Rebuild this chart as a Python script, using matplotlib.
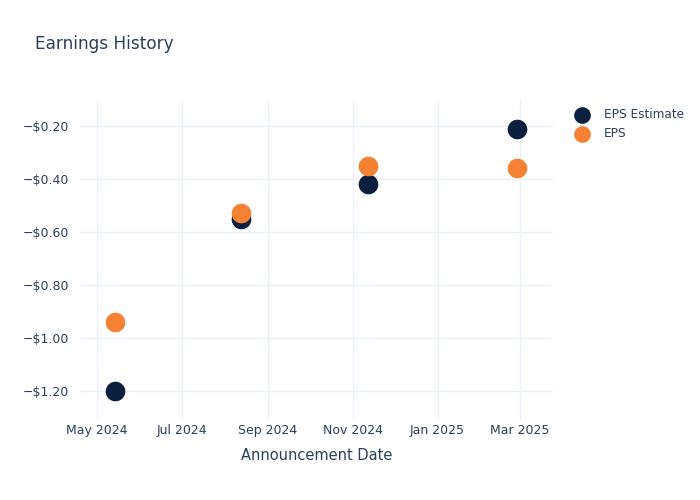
import matplotlib
matplotlib.use('Agg')
import matplotlib.pyplot as plt
import matplotlib.dates as mdates
import matplotlib.ticker as mticker
import numpy as np
import datetime as dt

# data
dates = ['2024-05-14', '2024-08-13', '2024-11-12', '2025-02-27']
eps_estimate = [-1.20, -0.55, -0.42, -0.21]
eps_actual = [-0.94, -0.53, -0.35, -0.36]
tick_dates = ['2024-05-01', '2024-07-01', '2024-09-01', '2024-11-01', '2025-01-01', '2025-03-01']
y_ticks = [-1.2, -1.0, -0.8, -0.6, -0.4, -0.2]

text_color = '#2a3f5f'
grid_color = '#ebf0f8'
navy = '#0c1f3f'
orange = '#f58232'

x = [dt.datetime.strptime(d, '%Y-%m-%d') for d in dates]
xt = [dt.datetime.strptime(d, '%Y-%m-%d') for d in tick_dates]

fig = plt.figure(figsize=(7, 5), dpi=100)
ax = fig.add_axes([80 / 700, 80 / 500, (553 - 80) / 700, (420 - 100) / 500])

marker_size = 200
ax.scatter(x, eps_estimate, s=marker_size, color=navy, zorder=3, label='EPS Estimate', linewidths=0)
ax.scatter(x, eps_actual, s=marker_size, color=orange, zorder=4, label='EPS', linewidths=0)

ax.set_xlim(dt.datetime(2024, 4, 19), dt.datetime(2025, 3, 25))
ax.set_ylim(-1.309, -0.102)

ax.set_xticks(xt)
ax.xaxis.set_major_formatter(mdates.DateFormatter('%b %Y'))
ax.set_yticks(y_ticks)
ax.yaxis.set_major_formatter(mticker.FuncFormatter(
    lambda v, p: ('\u2212' if v < 0 else '') + '${:.2f}'.format(abs(v))))

ax.grid(True, color=grid_color, linewidth=1)
ax.set_axisbelow(True)
for s in ax.spines.values():
    s.set_visible(False)
ax.tick_params(length=0, labelsize=9, labelcolor=text_color, pad=8)
ax.tick_params(axis='x', pad=3)

ax.set_xlabel('Announcement Date', fontsize=10.5, color=text_color, labelpad=8)

fig.text(35 / 700, 1 - 44 / 500, 'Earnings History', fontsize=12.2,
         color=text_color, va='center', ha='left')

leg = ax.legend(loc='upper left', bbox_to_anchor=(559 / 700, 1 - 97 / 500),
                bbox_transform=fig.transFigure, frameon=False, fontsize=8.7,
                handletextpad=0.8, labelspacing=0.5, markerscale=0.85)
for t in leg.get_texts():
    t.set_color(text_color)

fig.savefig('out.png', dpi=100)
